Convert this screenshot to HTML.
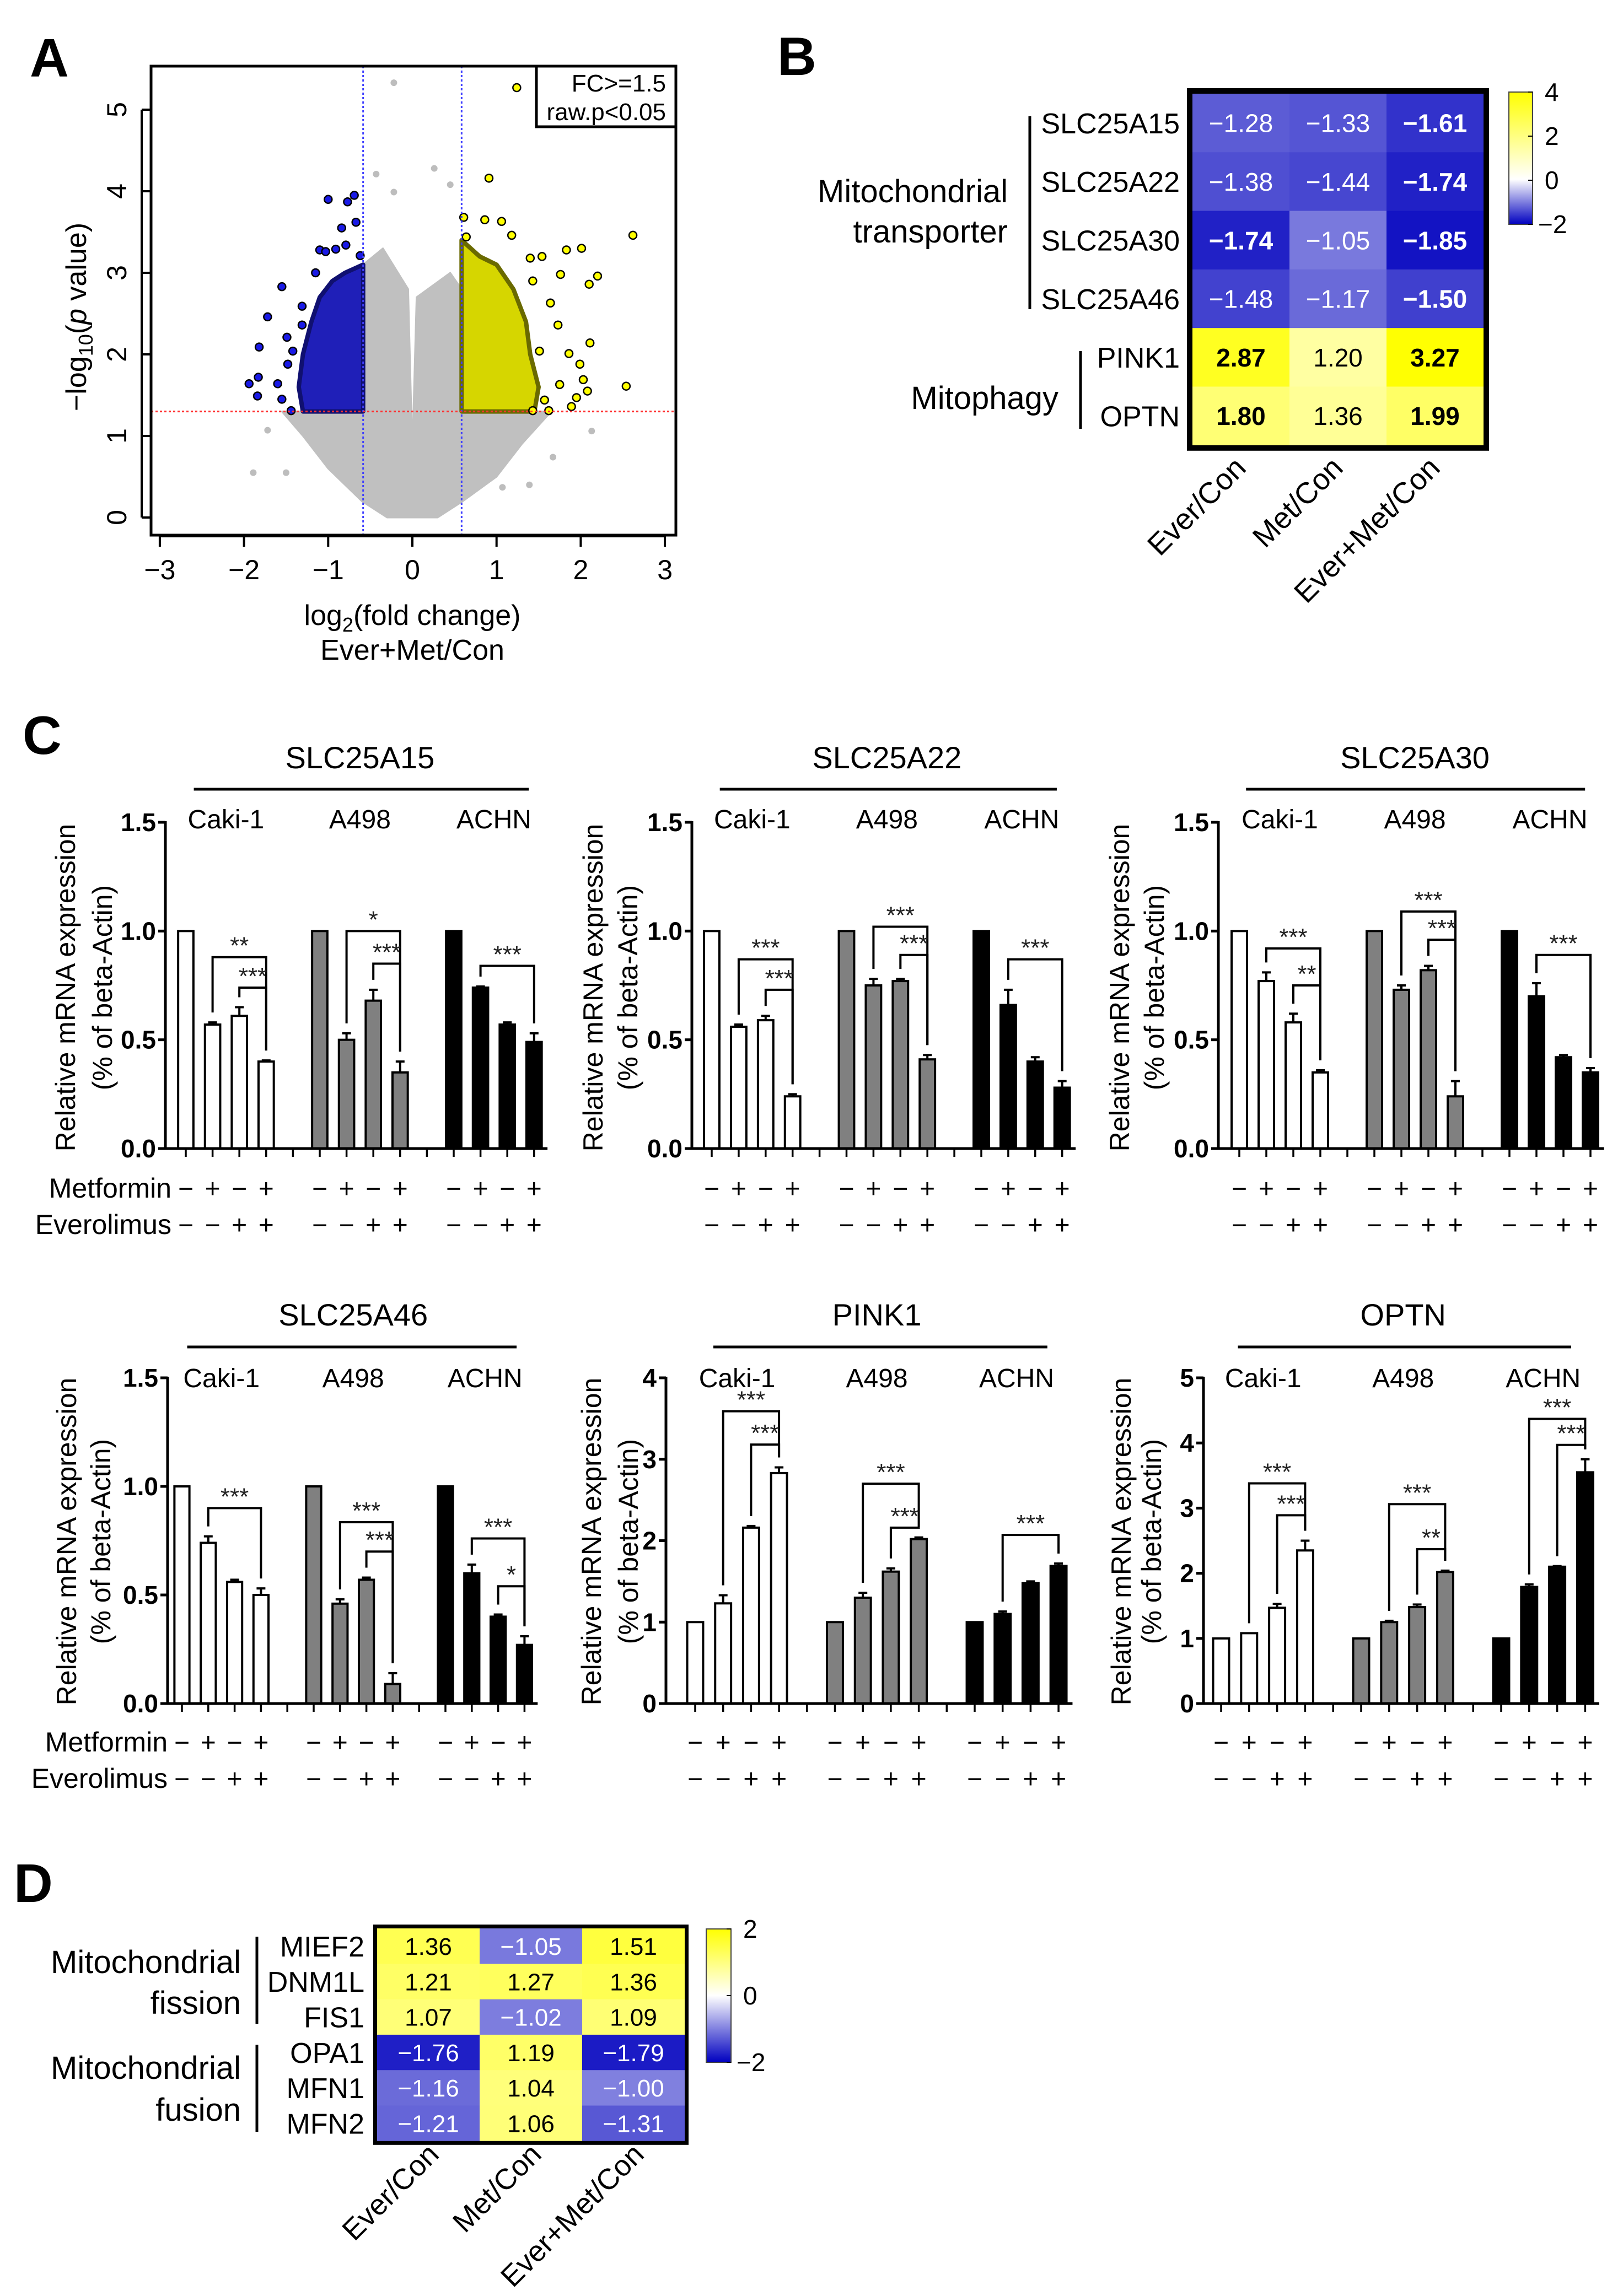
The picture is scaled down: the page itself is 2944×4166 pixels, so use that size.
<!DOCTYPE html>
<html><head><meta charset="utf-8"><title>Figure</title>
<style>
html,body{margin:0;padding:0;background:#fff;}
svg{display:block;}
text{font-family:"Liberation Sans",Arial,sans-serif;}
</style></head>
<body>
<svg id="fig" xmlns="http://www.w3.org/2000/svg" width="2944" height="4166" viewBox="0 0 2944 4166">
<defs>
<linearGradient id="cbB" x1="0" y1="0" x2="0" y2="1">
<stop offset="0" stop-color="#ffff00"/><stop offset="0.33" stop-color="#ffff80"/><stop offset="0.66" stop-color="#ffffff"/><stop offset="1" stop-color="#0000c0"/>
</linearGradient>
<linearGradient id="cbD" x1="0" y1="0" x2="0" y2="1">
<stop offset="0" stop-color="#ffff00"/><stop offset="0.5" stop-color="#ffffff"/><stop offset="1" stop-color="#0000c0"/>
</linearGradient>
</defs>
</svg>
<script>
// ---------------- DATA ----------------
const blueX = [-1.94,-1.83,-1.82,-1.84,-1.72,-1.60,-1.55,-1.55,-1.49,-1.44,-1.31,-1.0,-0.77,-0.69,-0.84,-0.67,-0.79,-1.1,-1.03,-0.91,-0.62,-1.15,-1.31,-1.42,-1.48];
const blueY = [1.64,1.72,2.09,1.49,2.46,1.64,2.83,1.45,2.21,1.31,2.59,3.9,3.87,3.95,3.55,3.62,3.34,3.28,3.26,3.29,3.21,3.0,2.36,2.04,1.88];
const yellowX = [1.24,0.91,2.62,2.54,2.01,1.83,2.2,2.1,2.11,1.76,1.54,1.4,1.18,1.06,0.86,0.61,0.64,1.64,1.73,1.86,1.99,2.03,2.08,1.95,1.89,1.75,1.57,1.43,1.62,1.51,1.43];
const yellowY = [5.27,4.16,3.46,1.61,3.3,3.28,2.96,2.86,2.14,2.98,3.2,3.18,3.46,3.63,3.65,3.68,3.44,2.63,2.36,2.01,1.88,1.69,1.55,1.47,1.36,1.63,1.44,1.31,1.31,2.04,2.9];
const grayX = [-0.22,0.26,-0.43,-0.22,0.45,-1.89,-1.72,2.13,1.39,1.67,-1.5,1.07];
const grayY = [5.33,4.28,4.21,3.99,4.08,0.55,1.07,1.06,0.40,0.74,0.55,0.37];
const grayCloudX = [-1.55,-1.3,-1.0,-0.6,-0.3,0.3,0.6,1.0,1.3,1.65,0.585,0.585,0.45,0.05,0.01,0,-0.01,-0.05,-0.35,-0.585,-0.585];
const grayCloudY = [1.3,1.0,0.6,0.2,0,0,0.2,0.5,0.9,1.3,1.3,2.8,3.0,2.7,1.2,0.9,1.2,2.8,3.3,3.1,1.3];
const blueCloudX = [-0.585,-1.3,-1.35,-1.3,-1.2,-1.1,-0.95,-0.8,-0.585];
const blueCloudY = [1.3,1.3,1.6,2.0,2.4,2.7,2.9,3.0,3.1];
const yellowCloudX = [0.585,1.45,1.5,1.4,1.35,1.2,1.0,0.8,0.585];
const yellowCloudY = [1.3,1.3,1.6,2.0,2.4,2.8,3.1,3.2,3.4];
const volcanoXTicks = [-3,-2,-1,0,1,2,3];
const volcanoYTicks = [0,1,2,3,4,5];
const fcCut = 0.585, pCut = 1.3;

const bGenes = ["SLC25A15","SLC25A22","SLC25A30","SLC25A46","PINK1","OPTN"];
const bCols = ["Ever/Con","Met/Con","Ever+Met/Con"];
const bValues = [[-1.28,-1.33,-1.61],[-1.38,-1.44,-1.74],[-1.74,-1.05,-1.85],[-1.48,-1.17,-1.50],[2.87,1.20,3.27],[1.80,1.36,1.99]];
const bBold = [[0,0,1],[0,0,1],[1,0,1],[0,0,1],[1,0,1],[1,0,1]];
const bScaleLabels = ["4","2","0","−2"];

const dGenes = ["MIEF2","DNM1L","FIS1","OPA1","MFN1","MFN2"];
const dCols = ["Ever/Con","Met/Con","Ever+Met/Con"];
const dValues = [[1.36,-1.05,1.51],[1.21,1.27,1.36],[1.07,-1.02,1.09],[-1.76,1.19,-1.79],[-1.16,1.04,-1.00],[-1.21,1.06,-1.31]];
const dScaleLabels = ["2","0","−2"];

const cellLines = ["Caki-1","A498","ACHN"];
const metSigns = ["−","+","−","+"];
const everSigns = ["−","−","+","+"];
const slc15Means = [1.0,0.57,0.61,0.40, 1.0,0.50,0.68,0.35, 1.0,0.74,0.57,0.49];
const slc15Errs  = [0,0.01,0.04,0.005, 0,0.03,0.05,0.05, 0,0.005,0.01,0.04];
const slc15Sig = [[1,3,0.88,"**"],[2,3,0.74,"***"],[5,7,1.0,"*"],[6,7,0.85,"***"],[9,11,0.84,"***"]];
const slc22Means = [1.0,0.56,0.59,0.24, 1.0,0.75,0.77,0.41, 1.0,0.66,0.40,0.28];
const slc22Errs  = [0,0.01,0.02,0.01, 0,0.03,0.01,0.02, 0,0.07,0.02,0.03];
const slc22Sig = [[1,3,0.87,"***"],[2,3,0.73,"***"],[5,7,1.02,"***"],[6,7,0.89,"***"],[9,11,0.87,"***"]];
const slc30Means = [1.0,0.77,0.58,0.35, 1.0,0.73,0.82,0.24, 1.0,0.70,0.42,0.35];
const slc30Errs  = [0,0.04,0.04,0.01, 0,0.02,0.02,0.07, 0,0.06,0.01,0.02];
const slc30Sig = [[1,3,0.92,"***"],[2,3,0.75,"**"],[5,7,1.09,"***"],[6,7,0.96,"***"],[9,11,0.89,"***"]];
const slc46Means = [1.0,0.74,0.56,0.50, 1.0,0.46,0.57,0.09, 1.0,0.60,0.40,0.27];
const slc46Errs  = [0,0.03,0.01,0.03, 0,0.02,0.01,0.05, 0,0.04,0.01,0.04];
const slc46Sig = [[1,3,0.90,"***"],[5,7,0.835,"***"],[6,7,0.70,"***"],[9,11,0.76,"***"],[10,11,0.54,"*"]];
const pink1Means = [1.0,1.23,2.16,2.83, 1.0,1.30,1.62,2.02, 1.0,1.10,1.48,1.69];
const pink1Errs  = [0,0.1,0.02,0.07, 0,0.06,0.04,0.02, 0,0.03,0.02,0.03];
const pink1Sig = [[1,3,3.59,"***"],[2,3,3.18,"***"],[5,7,2.70,"***"],[6,7,2.16,"***"],[9,11,2.07,"***"]];
const optnMeans = [1.0,1.08,1.47,2.35, 1.0,1.25,1.48,2.02, 1.0,1.79,2.10,3.55];
const optnErrs  = [0,0,0.06,0.15, 0,0.02,0.04,0.02, 0,0.04,0.01,0.2];
const optnSig = [[1,3,3.38,"***"],[2,3,2.89,"***"],[6,7,2.37,"**"],[5,7,3.06,"***"],[9,11,4.37,"***"],[10,11,3.97,"***"]];
const tickLabels15 = ["0.0","0.5","1.0","1.5"];
const tickVals15 = [0,0.5,1.0,1.5];
const tickVals4 = [0,1,2,3,4];
const tickLabels4 = ["0","1","2","3","4"];
const tickVals5 = [0,1,2,3,4,5];
const tickLabels5 = ["0","1","2","3","4","5"];

// ---------------- HELPERS ----------------
const NS = "http://www.w3.org/2000/svg";
const svg = document.getElementById("fig");
function el(tag, parent){ const e = document.createElementNS(NS, tag); (parent||svg).appendChild(e); return e; }
function set(e, o){ for (const k in o) e.setAttribute(k, o[k]); return e; }
function txt(parent, s, o){ const t = el("text", parent); set(t, o); t.textContent = s; return t; }
function fmt(v){ const s = Math.abs(v).toFixed(2); return v < 0 ? "−" + s : s; }
function heatColor(v, posMax){
  if (v < 0){ const t = Math.min(1, Math.abs(v)/2); return `rgb(${Math.round(255*(1-t))},${Math.round(255*(1-t))},${Math.round(255-65*t)})`; }
  const t = Math.min(1, v/posMax); return `rgb(255,255,${Math.round(255*(1-t))})`;
}

[["A",54,139],["B",1410,136],["C",41,1368],["D",25,3451]].forEach(p=>{
  const t = txt(svg, p[0], {x:p[1], y:p[2], "font-size":98, "font-weight":"bold"});
  
  
});

// ---------------- PANEL A ----------------
(function(){
  const g = el("g");  
  const vx = v => 748 + v*152.7, vy = v => 939 - v*148;
  const poly = (xs, ys) => xs.map((x,i)=>vx(x).toFixed(1)+","+vy(ys[i]).toFixed(1)).join(" ");
  const clip = el("clipPath", g); clip.setAttribute("id","vclip");
  set(el("rect", clip), {x:274,y:120,width:952,height:851});
  const pg = el("g", g); pg.setAttribute("clip-path","url(#vclip)");
  const gc = set(el("polygon", pg), {points:poly(grayCloudX, grayCloudY), fill:"#c0c0c0", stroke:"#c0c0c0","stroke-width":3,"stroke-linejoin":"round"});
   
  const bc = set(el("polygon", pg), {points:poly(blueCloudX, blueCloudY), fill:"#1f1fb8", stroke:"#101070","stroke-width":8,"stroke-linejoin":"round"});
   
  const yc = set(el("polygon", pg), {points:poly(yellowCloudX, yellowCloudY), fill:"#d6d600", stroke:"#6a6a00","stroke-width":8,"stroke-linejoin":"round"});
   
  grayX.forEach((x,i)=>{ const c = set(el("circle", pg), {cx:vx(x), cy:vy(grayY[i]), r:6, fill:"#bdbdbd"});
      });
  blueX.forEach((x,i)=>{ const c = set(el("circle", pg), {cx:vx(x), cy:vy(blueY[i]), r:7, fill:"#1a1ae6", stroke:"#000","stroke-width":2.5});
      });
  yellowX.forEach((x,i)=>{ const c = set(el("circle", pg), {cx:vx(x), cy:vy(yellowY[i]), r:7, fill:"#ffff00", stroke:"#000","stroke-width":2.5});
      });
  [-fcCut, fcCut].forEach(c=>{ const l = set(el("line", g), {x1:vx(c),x2:vx(c),y1:120,y2:971,stroke:"#4040ff","stroke-width":3,"stroke-dasharray":"4,4"});
      });
  const rl = set(el("line", g), {x1:274,x2:1226,y1:vy(pCut),y2:vy(pCut),stroke:"#ff3030","stroke-width":3,"stroke-dasharray":"4,4"});
   
  const box = set(el("rect", g), {x:274,y:120,width:952,height:851,fill:"none",stroke:"#000","stroke-width":5});
   
  const lg = el("g", g);  
  set(el("rect", lg), {x:973,y:120,width:253,height:110,fill:"#fff",stroke:"#000","stroke-width":5});
  txt(lg, "FC>=1.5", {x:1208,y:166,"font-size":44,"text-anchor":"end"});
  txt(lg, "raw.p<0.05", {x:1208,y:218,"font-size":44,"text-anchor":"end"});
  const xa = el("g", g);  
  set(el("line", xa), {x1:vx(-3),x2:vx(3),y1:973,y2:973,stroke:"#000","stroke-width":4});
  volcanoXTicks.forEach(t=>{
    set(el("line", xa), {x1:vx(t),x2:vx(t),y1:971,y2:992,stroke:"#000","stroke-width":4});
    txt(xa, t<0?"−"+Math.abs(t):String(t), {x:vx(t),y:1051,"font-size":50,"text-anchor":"middle"});
  });
  const xt = txt(xa, "", {x:748,y:1134,"font-size":52,"text-anchor":"middle"});
  xt.innerHTML = 'log<tspan dy="12" font-size="36">2</tspan><tspan dy="-12">(fold change)</tspan>';
   
  const xt2 = txt(xa, "Ever+Met/Con", {x:748,y:1197,"font-size":52,"text-anchor":"middle"});
   
  const ya = el("g", g);  
  set(el("line", ya), {x1:257,x2:257,y1:vy(0),y2:vy(5),stroke:"#000","stroke-width":4});
  volcanoYTicks.forEach(t=>{
    set(el("line", ya), {x1:257,x2:274,y1:vy(t),y2:vy(t),stroke:"#000","stroke-width":4});
    txt(ya, String(t), {x:0,y:0,"font-size":50,"text-anchor":"middle",transform:`translate(229,${vy(t)}) rotate(-90)`});
  });
  const yt = txt(ya, "", {x:0,y:0,"font-size":52,"text-anchor":"middle",transform:"translate(156,575) rotate(-90)"});
  yt.innerHTML = '−log<tspan dy="12" font-size="36">10</tspan><tspan dy="-12">(</tspan><tspan font-style="italic">p</tspan><tspan> value)</tspan>';
   
})();

// ---------------- HEATMAP ----------------
function heatmap(opt){
  const g = el("g");  
  opt.values.forEach((row,r)=>{
    row.forEach((v,c)=>{
      const x = opt.x0 + c*opt.cw, y = opt.y0 + r*opt.ch;
      const cell = set(el("rect", g), {x:x,y:y,width:opt.cw+0.5,height:opt.ch+0.5,fill:heatColor(v, opt.posMax)});
       
      const t = txt(g, fmt(v), {x:x+opt.cw/2, y:y+opt.ch/2+opt.fs*0.36, "font-size":opt.fs, "text-anchor":"middle",
        fill: v<0 ? "#fff" : "#000", "font-weight": (opt.bold && opt.bold[r][c]) ? "bold" : "normal",
        "font-family":'"Liberation Sans Narrow","Liberation Sans",sans-serif'});
       
    });
    const rl = txt(g, opt.genes[r], {x:opt.labelX, y:opt.y0 + r*opt.ch + opt.ch/2 + opt.lfs*0.36, "font-size":opt.lfs, "text-anchor":"end"});
     
  });
  const W = opt.cw*opt.values[0].length, H = opt.ch*opt.values.length;
  const fr = set(el("rect", g), {x:opt.x0-opt.sw/2,y:opt.y0-opt.sw/2,width:W+opt.sw,height:H+opt.sw,fill:"none",stroke:"#000","stroke-width":opt.sw});
   
  opt.cols.forEach((c,i)=>{
    const cx = opt.x0 + i*opt.cw + opt.cw/2 + opt.colDx;
    const t = txt(g, c, {x:0,y:0,"font-size":opt.cfs,"text-anchor":"end",transform:`translate(${cx},${opt.colY}) rotate(-45)`});
     
  });
  const cb = el("g", g);  
  set(el("rect", cb), {x:opt.cbX,y:opt.cbY,width:opt.cbW,height:opt.cbH,fill:`url(#${opt.grad})`,stroke:"#444","stroke-width":2});
  opt.scale.forEach((s,i)=>{
    const y = opt.cbY + i*opt.cbH/(opt.scale.length-1);
    set(el("line", cb), {x1:opt.cbX+opt.cbW-8,x2:opt.cbX+opt.cbW,y1:y,y2:y,stroke:"#000","stroke-width":2});
    txt(cb, s, {x:opt.cbX+opt.cbW+(s.length>1?10:22), y:y+16, "font-size":46});
  });
  return g;
}
heatmap({name:"heatmap-b", values:bValues, bold:bBold, genes:bGenes, cols:bCols, x0:2163, y0:170, cw:176, ch:106.3, sw:10,
  posMax:3.3, fs:46, lfs:52, cfs:54, labelX:2140, colDx:12, colY:852, cbX:2737, cbY:167, cbW:43, cbH:240, grad:"cbB", scale:bScaleLabels});
heatmap({name:"heatmap-d", values:dValues, genes:dGenes, cols:dCols, x0:684, y0:3499, cw:186, ch:64.3, sw:7,
  posMax:2, fs:44, lfs:52, cfs:53, labelX:661, colDx:22, colY:3912, cbX:1281, cbY:3500, cbW:45, cbH:242, grad:"cbD", scale:dScaleLabels});

function groupLabel(lines, rightX, baselines, brX, y1, y2, name, fs){
  const g = el("g");  
  lines.forEach((s,i)=> txt(g, s, {x:rightX, y:baselines[i], "font-size":fs, "text-anchor":"end"}));
  set(el("line", g), {x1:brX,x2:brX,y1:y1,y2:y2,stroke:"#000","stroke-width":5});
}
groupLabel(["Mitochondrial","transporter"], 1828, [367,440], 1868, 211, 561, "group-transporter", 58);
groupLabel(["Mitophagy"], 1920, [742], 1960, 637, 778, "group-mitophagy", 58);
groupLabel(["Mitochondrial","fission"], 437, [3580,3654], 466, 3514, 3672, "group-fission", 58);
groupLabel(["Mitochondrial","fusion"], 437, [3772,3848], 466, 3710, 3868, "group-fusion", 58);

// ---------------- BAR CHARTS ----------------
const groupFills = ["#ffffff","#808080","#000000"];
function barChart(cfg, means, errs, sigs){
  const g = el("g");  
  const yp = v => cfg.yZero - v*(cfg.yZero - cfg.yTop)/cfg.ymax;
  const sx = s => cfg.x0 + s*cfg.step;
  const slotOf = i => Math.floor(i/4)*5 + (i%4);
  const bw = cfg.step*0.57;
  const tt = txt(g, cfg.title, {x:sx(6.5), y:cfg.titleY, "font-size":56, "text-anchor":"middle"});
   
  set(el("line", g), {x1:sx(cfg.lineS[0]), x2:sx(cfg.lineS[1]), y1:cfg.lineY, y2:cfg.lineY, stroke:"#000","stroke-width":5});
  cellLines.forEach((c,k)=>{ const t = txt(g, c, {x:sx(k*5+1.5), y:cfg.cellY, "font-size":48, "text-anchor":"middle"});
      });
  means.forEach((m,i)=>{
    const cx = sx(slotOf(i)), top = yp(m);
    const b = set(el("rect", g), {x:cx-bw/2, y:top, width:bw, height:cfg.yZero-top, fill:groupFills[Math.floor(i/4)], stroke:"#000","stroke-width":4});
     
    if (errs[i] > 0){
      const ye = yp(m+errs[i]);
      const e = set(el("path", g), {d:`M${cx},${top} V${ye} M${cx-8},${ye} H${cx+8}`, stroke:"#000","stroke-width":4, fill:"none"});
       
    }
  });
  sigs.forEach(s=>{
    const a = s[0], b2 = s[1], y = yp(s[2]);
    const xa = sx(slotOf(a)), xb = sx(slotOf(b2));
    const ya = yp(means[a]+errs[a]) - 18, yb = yp(means[b2]+errs[b2]) - 18;
    const p = set(el("path", g), {d:`M${xa},${ya} V${y} H${xb} V${yb}`, stroke:"#000","stroke-width":4, fill:"none"});
     
    const st = txt(g, s[3], {x:(xa+xb)/2, y:y-6, "font-size":44, "text-anchor":"middle", fill:"#222"});
     
  });
  const ax = el("g", g);  
  set(el("line", ax), {x1:cfg.axisX, x2:cfg.axisX, y1:cfg.yTop-2, y2:cfg.yZero, stroke:"#000","stroke-width":5});
  set(el("line", ax), {x1:cfg.axisX, x2:sx(13.5), y1:cfg.yZero, y2:cfg.yZero, stroke:"#000","stroke-width":5});
  for (let s=0; s<14; s++) set(el("line", ax), {x1:sx(s), x2:sx(s), y1:cfg.yZero, y2:cfg.yZero+15, stroke:"#000","stroke-width":3.5});
  cfg.ticks.forEach((t,i)=>{
    set(el("line", ax), {x1:cfg.axisX-13, x2:cfg.axisX, y1:yp(t), y2:yp(t), stroke:"#000","stroke-width":5});
    txt(ax, cfg.tickLabels[i], {x:cfg.axisX-17, y:yp(t)+16, "font-size":46, "font-weight":"bold", "text-anchor":"end",
      "font-family":'"Liberation Sans Narrow","Liberation Sans",sans-serif'});
  });
  const yt1 = txt(g, "Relative mRNA expression", {x:0,y:0,"font-size":50,"text-anchor":"middle",transform:`translate(${cfg.axisX+cfg.yt[0]+18},${cfg.ytY}) rotate(-90)`});
   
  const yt2 = txt(g, "(% of beta-Actin)", {x:0,y:0,"font-size":50,"text-anchor":"middle",transform:`translate(${cfg.axisX+cfg.yt[1]+18},${cfg.ytY}) rotate(-90)`});
   
  for (let k=0;k<3;k++) for (let j=0;j<4;j++){
    const x = sx(k*5+j);
    const m = txt(g, metSigns[j], {x:x, y:cfg.signY[0]+17, "font-size":48, "text-anchor":"middle"});
     
    const e = txt(g, everSigns[j], {x:x, y:cfg.signY[1]+17, "font-size":48, "text-anchor":"middle"});
     
  }
  if (cfg.showRowLabels){
    const ml = txt(g, "Metformin", {x:cfg.x0-26, y:cfg.signY[0]+17, "font-size":50, "text-anchor":"end"});
     
    const el2 = txt(g, "Everolimus", {x:cfg.x0-26, y:cfg.signY[1]+17, "font-size":50, "text-anchor":"end"});
     
  }
}
const row1 = {yZero:2084, yTop:1492, ymax:1.5, ticks:tickVals15, tickLabels:tickLabels15, titleY:1394, lineY:1432, cellY:1503, ytY:1792, signY:[2156,2222]};
const row2 = {yZero:3091, yTop:2500, titleY:2405, lineY:2444, cellY:2517, ytY:2797, signY:[3161,3227]};
barChart(Object.assign({}, row1, {name:"chart-slc25a15", title:"SLC25A15", axisX:300, x0:337, step:48.6, lineS:[0.3,12.8], yt:[-182,-115], showRowLabels:true}), slc15Means, slc15Errs, slc15Sig);
barChart(Object.assign({}, row1, {name:"chart-slc25a22", title:"SLC25A22", axisX:1255, x0:1291, step:48.9, lineS:[0.3,12.8], yt:[-180,-117]}), slc22Means, slc22Errs, slc22Sig);
barChart(Object.assign({}, row1, {name:"chart-slc25a30", title:"SLC25A30", axisX:2210, x0:2248, step:49.0, lineS:[0.25,12.8], yt:[-180,-117]}), slc30Means, slc30Errs, slc30Sig);
barChart(Object.assign({}, row2, {name:"chart-slc25a46", title:"SLC25A46", axisX:304, x0:330, step:47.8, ymax:1.5, ticks:tickVals15, tickLabels:tickLabels15, lineS:[0.2,12.7], yt:[-184,-122], showRowLabels:true}), slc46Means, slc46Errs, slc46Sig);
barChart(Object.assign({}, row2, {name:"chart-pink1", title:"PINK1", axisX:1208, x0:1261, step:50.7, ymax:4, ticks:tickVals4, tickLabels:tickLabels4, lineS:[0.65,12.6], yt:[-136,-69]}), pink1Means, pink1Errs, pink1Sig);
barChart(Object.assign({}, row2, {name:"chart-optn", title:"OPTN", axisX:2183, x0:2215, step:50.8, ymax:5, ticks:tickVals5, tickLabels:tickLabels5, lineS:[0.6,12.5], yt:[-150,-95]}), optnMeans, optnErrs, optnSig);
</script>
</body></html>
